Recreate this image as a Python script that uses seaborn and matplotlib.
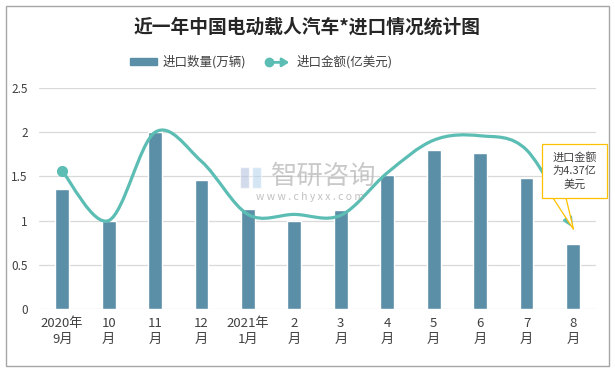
import numpy as np
import pandas as pd
import matplotlib
matplotlib.use('Agg')
import matplotlib.pyplot as plt
import seaborn as sns
from matplotlib.path import Path
from matplotlib.patches import FancyArrowPatch, Rectangle, Polygon, Patch
from matplotlib.lines import Line2D

# 数据
months = ['2020年\n9月', '10\n月', '11\n月', '12\n月', '2021年\n1月', '2\n月',
          '3\n月', '4\n月', '5\n月', '6\n月', '7\n月', '8\n月']
qty = [1.36, 1.0, 2.0, 1.46, 1.13, 1.0, 1.12, 1.52, 1.80, 1.76, 1.48, 0.74]   # 进口数量(万辆)
amount = [1.56, 1.0, 2.0, 1.67, 1.07, 1.07, 1.06, 1.54, 1.91, 1.96, 1.80, 0.92]  # 进口金额(亿美元)
callout_text = '进口金额\n为4.37亿\n美元'

sns.set_theme(style='white')
plt.rcParams['font.family'] = ['Noto Sans CJK SC', 'DejaVu Sans']

BAR = '#5B8FA7'
LINE = '#5BBDB3'

fig = plt.figure(figsize=(6.15, 3.70), dpi=100)
ax = fig.add_axes([0.0634, 0.165, 0.906, 0.597])

df = pd.DataFrame({'month': months, 'qty': qty})
sns.barplot(data=df, x='month', y='qty', color=BAR, width=0.3, ax=ax, saturation=1, zorder=2)

# 平滑曲线 (Catmull-Rom -> Bezier)
xs = np.arange(len(amount), dtype=float)
ys = np.array(amount)
verts = [(xs[0], ys[0])]
codes = [Path.MOVETO]
n = len(xs)
for i in range(n - 1):
    p0 = np.array([xs[max(i - 1, 0)], ys[max(i - 1, 0)]])
    p1 = np.array([xs[i], ys[i]])
    p2 = np.array([xs[i + 1], ys[i + 1]])
    p3 = np.array([xs[min(i + 2, n - 1)], ys[min(i + 2, n - 1)]])
    c1 = p1 + (p2 - p0) / 6
    c2 = p2 - (p3 - p1) / 6
    verts += [tuple(c1), tuple(c2), tuple(p2)]
    codes += [Path.CURVE4] * 3
curve = FancyArrowPatch(path=Path(verts, codes), arrowstyle='-|>,head_length=5,head_width=2.5',
                        color=LINE, lw=2.3, transform=ax.transData, zorder=4)
ax.add_patch(curve)
ax.plot([xs[0]], [ys[0]], 'o', color=LINE, ms=7, zorder=5)

ax.set_xlim(-0.5, 11.5)
ax.set_ylim(0, 2.5)
ax.set_yticks([0, 0.5, 1, 1.5, 2, 2.5])
ax.set_yticklabels(['0', '0.5', '1', '1.5', '2', '2.5'])
ax.yaxis.grid(True, color='#D9D9D9', lw=0.9, zorder=0)
ax.set_axisbelow(True)
for s in ax.spines.values():
    s.set_visible(False)
ax.tick_params(axis='both', length=0, colors='#404040')
ax.tick_params(axis='x', labelsize=9.5, pad=6)
ax.tick_params(axis='y', labelsize=8.5, pad=8)
for t in ax.get_xticklabels():
    t.set_linespacing(1.25)
ax.set_xlabel('')
ax.set_ylabel('')

# 标题
fig.text(0.5, 0.927, '近一年中国电动载人汽车*进口情况统计图', ha='center', va='center',
         fontsize=13.5, fontweight='bold', color='#262626')

# 图例
class LineArrowHandler:
    def legend_artist(self, legend, orig_handle, fontsize, handlebox):
        x0, y0 = handlebox.xdescent, handlebox.ydescent
        w, h = handlebox.width, handlebox.height
        ym = y0 + h / 2
        a = FancyArrowPatch((x0 + 2, ym), (x0 + w, ym), arrowstyle='-|>,head_length=4,head_width=2.5',
                            color=LINE, lw=2, transform=handlebox.get_transform(), mutation_scale=1)
        d = Line2D([x0 + 3], [ym], marker='o', ms=6, color=LINE, transform=handlebox.get_transform())
        handlebox.add_artist(a)
        handlebox.add_artist(d)
        return a

line_handle = Line2D([], [], color=LINE)
fig.legend([Patch(color=BAR), line_handle], ['进口数量(万辆)', '进口金额(亿美元)'],
           handler_map={Line2D: LineArrowHandler()},
           loc='center', bbox_to_anchor=(0.425, 0.832), ncol=2, frameon=False,
           fontsize=9, handlelength=2.2, handleheight=0.6, columnspacing=1.5, handletextpad=0.4,
           labelcolor='#404040')

# 水印
W, H = 615, 370
fig.text(324 / W, 1 - 176 / H, '智研咨询', ha='center', va='center', fontsize=19, color='#A6A6A6', alpha=0.6)
fig.text(310 / W, 1 - 197 / H, 'w w w . c h y x x . c o m', ha='center', va='center', fontsize=7.5,
         color='#A6A6A6', alpha=0.7)
fig.add_artist(Rectangle((240 / W, 1 - 188 / H), 9 / W, 21 / H, facecolor='#B4C3DE', alpha=0.6,
                         transform=fig.transFigure, zorder=1))
fig.add_artist(Rectangle((252 / W, 1 - 188 / H), 9 / W, 21 / H, facecolor='#B8D6EE', alpha=0.6,
                         transform=fig.transFigure, zorder=1))

# 标注框
fig.canvas.draw()
tip = ax.transData.transform((11, amount[-1]))
tip_fig = fig.transFigure.inverted().transform(tip)
tail = Polygon([(553 / W, 1 - 198 / H), (tip_fig[0] + 0.001, tip_fig[1] - 0.005), (566 / W, 1 - 198 / H)],
               closed=True, facecolor='white', edgecolor='#FFC000', lw=0.9, transform=fig.transFigure, zorder=3)
fig.add_artist(tail)
box = Rectangle((542 / W, 1 - 198 / H), 65 / W, 54 / H, facecolor='white', edgecolor='#FFC000', lw=0.9,
                transform=fig.transFigure, zorder=6)
fig.add_artist(box)
fig.text(574.5 / W, 1 - 171 / H, callout_text, ha='center', va='center', fontsize=8, color='#404040',
         linespacing=1.35, zorder=7)

# 外框
fig.add_artist(Rectangle((6 / W, 4 / H), 603 / W, 360 / H, fill=False, edgecolor='#A6A6A6', lw=1,
                         transform=fig.transFigure))

fig.savefig('out.png', dpi=100)
